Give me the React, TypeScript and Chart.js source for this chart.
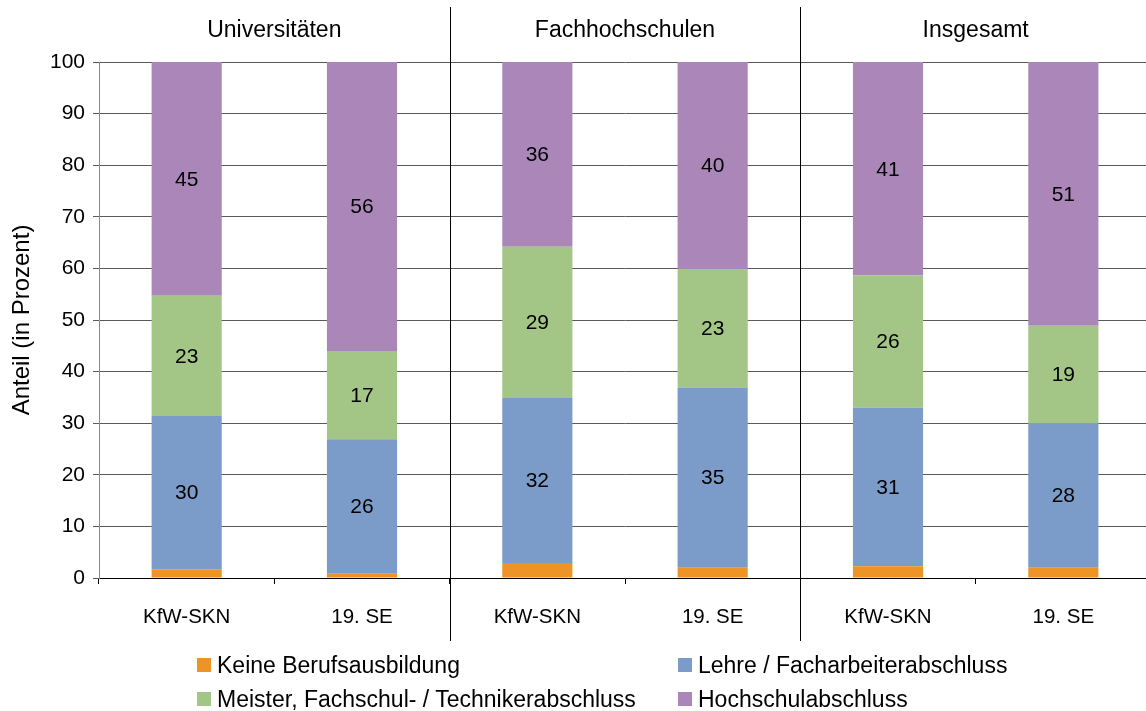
import React, { useEffect, useRef } from "react";
import { Chart, registerables } from "chart.js";

Chart.register(...registerables);

const categories = ["KfW-SKN", "19. SE", "KfW-SKN", "19. SE", "KfW-SKN", "19. SE"];
const groups = ["Universitäten", "Fachhochschulen", "Insgesamt"];
const seriesNames = [
  "Keine Berufsausbildung",
  "Lehre / Facharbeiterabschluss",
  "Meister, Fachschul- / Technikerabschluss",
  "Hochschulabschluss",
];
const seriesColors = ["#EE9426", "#7B9BC8", "#A3C585", "#AB87B9"];
const keineBerufsausbildung = [1.7, 0.8, 2.9, 2.0, 2.3, 2.0];
const lehre = [29.7, 26.1, 32.0, 34.9, 30.7, 27.9];
const meister = [23.3, 17.1, 29.3, 23.0, 25.6, 19.0];
const hochschul = [45.3, 56.0, 35.8, 40.1, 41.4, 51.1];
const yTicks = [0, 10, 20, 30, 40, 50, 60, 70, 80, 90, 100];
const yTitle = "Anteil (in Prozent)";

const FONT = "'Liberation Sans', Arial, sans-serif";

const overlayPlugin = {
  id: "overlay",
  afterDatasetsDraw(chart: any) {
    const ctx = chart.ctx;
    ctx.save();
    ctx.font = `21px ${FONT}`;
    ctx.fillStyle = "#000";
    ctx.textAlign = "center";
    ctx.textBaseline = "middle";
    chart.data.datasets.forEach((ds: any, di: number) => {
      if (di === 0) return;
      const meta = chart.getDatasetMeta(di);
      meta.data.forEach((el: any, i: number) => {
        const v = ds.data[i];
        const p = el.getProps(["x", "y", "base"], true);
        ctx.fillText(String(Math.round(v)), p.x, (p.y + p.base) / 2 + 1);
      });
    });
    ctx.restore();
  },
  afterDraw(chart: any) {
    const ctx = chart.ctx;
    const x = chart.scales.x;
    ctx.save();
    ctx.strokeStyle = "#000";
    ctx.lineWidth = 1;
    for (let g = 1; g < groups.length; g++) {
      const px = Math.round((x.getPixelForValue(g * 2 - 1) + x.getPixelForValue(g * 2)) / 2) + 0.5;
      ctx.beginPath();
      ctx.moveTo(px, 7);
      ctx.lineTo(px, 641);
      ctx.stroke();
    }
    ctx.font = `23px ${FONT}`;
    ctx.fillStyle = "#000";
    ctx.textAlign = "center";
    ctx.textBaseline = "middle";
    groups.forEach((g, gi) => {
      const cx = (x.getPixelForValue(gi * 2) + x.getPixelForValue(gi * 2 + 1)) / 2;
      ctx.fillText(g, cx, 31);
    });
    ctx.restore();
  },
};

export default function App() {
  const ref = useRef<HTMLCanvasElement>(null);
  useEffect(() => {
    document.body.style.margin = "0";
    const data = [keineBerufsausbildung, lehre, meister, hochschul];
    const chart = new Chart(ref.current!, {
      type: "bar",
      data: {
        labels: categories,
        datasets: data.map((d, i) => ({
          label: seriesNames[i],
          data: d,
          backgroundColor: seriesColors[i],
          borderWidth: 0,
          barPercentage: 0.4,
          categoryPercentage: 1,
        })),
      },
      options: {
        animation: false,
        responsive: false,
        devicePixelRatio: 1,
        layout: { padding: { top: 62, right: 9, left: 0, bottom: 0 } },
        plugins: { legend: { display: false }, tooltip: { enabled: false } },
        scales: {
          x: {
            stacked: true,
            offset: true,
            afterFit(s: any) { s.height = 133; },
            grid: { offset: true, drawOnChartArea: false, drawTicks: true, tickLength: 6, color: "#000" },
            border: { color: "#000" },
            ticks: { color: "#000", font: { family: FONT, size: 20.5 }, padding: 21 },
          },
          y: {
            stacked: true,
            min: 0,
            max: 100,
            afterFit(s: any) { s.width = 99; },
            afterBuildTicks(s: any) { s.ticks = yTicks.map((v) => ({ value: v })); },
            grid: { color: "#5a5a5a", tickLength: 6, drawTicks: true },
            border: { color: "#888" },
            ticks: { color: "#000", font: { family: FONT, size: 21 }, padding: 8 },
            title: { display: true, text: yTitle, color: "#000", font: { family: FONT, size: 24 }, padding: { top: 8, bottom: 0 } },
          },
        },
      },
      plugins: [overlayPlugin],
    });
    return () => chart.destroy();
  }, []);

  const legendItem = (i: number, left: number, top: number) => (
    <div key={i} style={{ position: "absolute", left, top, display: "flex", alignItems: "center", fontFamily: FONT, fontSize: 23, color: "#000", whiteSpace: "nowrap", lineHeight: "24px" }}>
      <span style={{ display: "inline-block", width: 14, height: 14, background: seriesColors[i], marginRight: 6 }} />
      <span>{seriesNames[i]}</span>
    </div>
  );

  return (
    <div style={{ position: "relative", width: 1146, height: 711, overflow: "hidden", background: "#fff" }}>
      <canvas ref={ref} width={1160} height={711} style={{ position: "absolute", left: 0, top: 0 }} />
      {legendItem(0, 197, 653)}
      {legendItem(1, 678, 653)}
      {legendItem(2, 197, 687)}
      {legendItem(3, 678, 687)}
    </div>
  );
}
